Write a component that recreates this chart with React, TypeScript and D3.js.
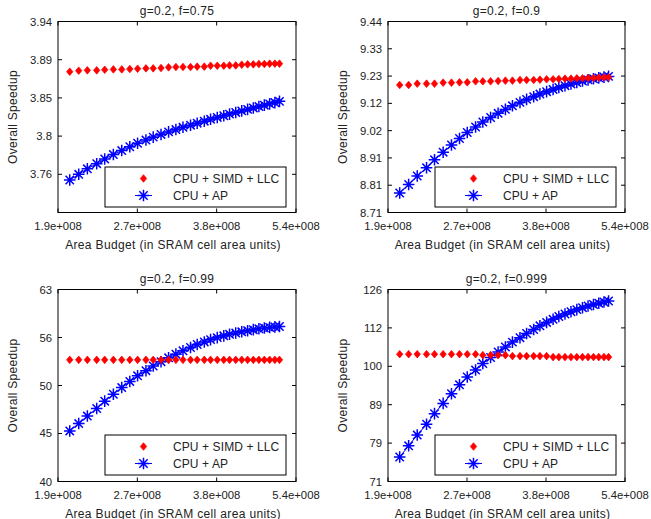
import React from 'react';
import * as d3 from 'd3';

// ---------- data ----------
const areaBudget = [
  2.0e8, 2.08e8, 2.16e8, 2.25e8, 2.33e8, 2.42e8, 2.51e8, 2.6e8, 2.69e8, 2.79e8, 2.88e8,
  2.98e8, 3.08e8, 3.18e8, 3.28e8, 3.39e8, 3.49e8, 3.6e8, 3.7e8, 3.81e8, 3.92e8, 4.02e8,
  4.13e8, 4.24e8, 4.35e8, 4.46e8, 4.57e8, 4.68e8, 4.79e8, 4.9e8, 5.0e8,
];

const xTickValues = [1.9e8, 2.687e8, 3.8e8, 5.374e8];
const xTickLabels = ['1.9e+008', '2.7e+008', '3.8e+008', '5.4e+008'];

const seriesNames = ['CPU + SIMD + LLC', 'CPU + AP'];
const panelTitles = ['g=0.2, f=0.75', 'g=0.2, f=0.9', 'g=0.2, f=0.99', 'g=0.2, f=0.999'];

// f = 0.75
const simd075 = [
  3.8764, 3.8776, 3.878, 3.878, 3.8787, 3.8791, 3.8791, 3.8795, 3.8799, 3.8803, 3.8803,
  3.8807, 3.8815, 3.8819, 3.8819, 3.8819, 3.8823, 3.8823, 3.8834, 3.8834, 3.8834, 3.8838,
  3.8838, 3.8846, 3.885, 3.885, 3.8854, 3.8854, 3.8858, 3.8858, 3.8858,
];
const ap075 = [
  3.7519, 3.7584, 3.7646, 3.7704, 3.7758, 3.7808, 3.7854, 3.7897, 3.7937, 3.7974, 3.8007,
  3.8038, 3.8067, 3.8094, 3.812, 3.8144, 3.8167, 3.819, 3.8212, 3.8233, 3.8253, 3.8272,
  3.8291, 3.8309, 3.8326, 3.8343, 3.8359, 3.8375, 3.839, 3.8405, 3.8419,
];
const yDomain075 = [3.71535, 3.9355];
const yTicks075 = [3.75837, 3.80189, 3.84592, 3.89045, 3.9355];
const yTickLabels075 = ['3.76', '3.8', '3.85', '3.89', '3.94'];

// f = 0.9
const simd09 = [
  9.1911, 9.1911, 9.1962, 9.1962, 9.1962, 9.2001, 9.2001, 9.2014, 9.2014, 9.2053, 9.2053,
  9.2053, 9.2066, 9.2079, 9.2079, 9.2105, 9.2105, 9.2105, 9.2118, 9.2131, 9.2131, 9.2144,
  9.2157, 9.2157, 9.217, 9.217, 9.2183, 9.2183, 9.2196, 9.2209, 9.2209,
];
const ap09 = [
  8.7816, 8.8131, 8.8448, 8.8754, 8.9055, 8.9341, 8.9613, 8.9859, 9.0087, 9.0296, 9.0487,
  9.0659, 9.082, 9.0969, 9.1108, 9.1238, 9.1354, 9.1458, 9.1559, 9.1652, 9.1737, 9.1814,
  9.1884, 9.195, 9.2008, 9.2063, 9.2109, 9.2152, 9.2187, 9.2218, 9.2245,
];
const yDomain09 = [8.70964, 9.44061];
const yTicks09 = [8.70964, 8.81049, 8.91251, 9.01571, 9.12011, 9.22571, 9.33254, 9.44061];
const yTickLabels09 = ['8.71', '8.81', '8.91', '9.02', '9.12', '9.23', '9.33', '9.44'];

// f = 0.99
const simd099 = [
  53.3, 53.3, 53.3, 53.3, 53.3, 53.3, 53.3, 53.3, 53.3, 53.3, 53.3, 53.3, 53.3, 53.3, 53.3,
  53.3, 53.3, 53.3, 53.3, 53.3, 53.3, 53.3, 53.3, 53.3, 53.3, 53.3, 53.3, 53.3, 53.3, 53.3, 53.3,
];
const ap099 = [
  44.94, 45.75, 46.58, 47.43, 48.27, 49.08, 49.87, 50.61, 51.3, 51.93, 52.52, 53.06, 53.56,
  54.03, 54.47, 54.9, 55.3, 55.64, 55.95, 56.22, 56.46, 56.67, 56.84, 57.01, 57.16, 57.3,
  57.42, 57.53, 57.61, 57.68, 57.74,
];
const yDomain099 = [39.8107, 63.0957];
const yTicks099 = [39.8107, 44.6684, 50.1187, 56.2341, 63.0957];
const yTickLabels099 = ['40', '45', '50', '56', '63'];

// f = 0.999
const simd0999 = [
  103.7, 103.7, 103.7, 103.7, 103.7, 103.7, 103.7, 103.7, 103.7, 103.7, 103.4, 103.4, 103.4,
  103.4, 103.1, 103.1, 103.1, 103.1, 103.1, 103.1, 102.8, 102.8, 102.8, 102.8, 102.8, 102.8,
  102.8, 102.8, 102.8, 102.8, 102.8,
];
const ap0999 = [
  76.19, 78.79, 81.38, 84.06, 86.77, 89.47, 92.11, 94.6, 96.84, 98.89, 100.84, 102.67, 104.38,
  105.98, 107.52, 108.95, 110.33, 111.66, 112.91, 114.06, 115.13, 116.1, 116.97, 117.78,
  118.53, 119.2, 119.81, 120.35, 120.82, 121.26, 121.62,
];
const yDomain0999 = [70.7946, 125.893];
const yTicks0999 = [70.7946, 79.4328, 89.1251, 100, 112.202, 125.893];
const yTickLabels0999 = ['71', '79', '89', '100', '112', '126'];

// ---------- layout ----------
const W = 651;
const H = 519;
const FONT = "'Liberation Sans', Arial, Helvetica, sans-serif";
const TEXT = '#222';
const RED = '#ff0000';
const BLUE = '#0000ff';

type PanelProps = {
  x0: number; x1: number; y0: number; y1: number;
  title: string;
  yDomain: number[]; yTicks: number[]; yTickLabels: string[];
  red: number[]; blue: number[];
};

function asteriskPath(x: number, y: number, r: number) {
  const d = r * 0.72;
  return `M${x - r},${y}H${x + r}M${x},${y - r}V${y + r}M${x - d},${y - d}L${x + d},${y + d}M${x - d},${y + d}L${x + d},${y - d}`;
}
function diamondPath(x: number, y: number) {
  return `M${x},${y - 3.8}L${x + 3.2},${y}L${x},${y + 3.8}L${x - 3.2},${y}Z`;
}

function Panel(p: PanelProps) {
  const x = d3.scaleLog().domain([xTickValues[0], xTickValues[xTickValues.length - 1]]).range([p.x0, p.x1]);
  const y = d3.scaleLog().domain(p.yDomain).range([p.y1, p.y0]);
  const line = d3.line<number>().x((_, i) => x(areaBudget[i])).y((v) => y(v));
  const tick = 4;
  const cx = (p.x0 + p.x1) / 2;
  const cy = (p.y0 + p.y1) / 2;
  const lgX = p.x0 + 47;
  const lgY = p.y0 + 145.5;
  const lgW = 181;
  const lgH = 40;
  return (
    <g>
      <path d={line(p.blue) || ''} fill="none" stroke={BLUE} strokeWidth={1} />
      {p.blue.map((v, i) => (
        <path key={'b' + i} d={asteriskPath(x(areaBudget[i]), y(v), 5.8)} stroke={BLUE} strokeWidth={1.5} fill="none" />
      ))}
      {p.red.map((v, i) => (
        <path key={'r' + i} d={diamondPath(x(areaBudget[i]), y(v))} fill={RED} stroke={RED} strokeWidth={0.7} />
      ))}
      <rect x={p.x0} y={p.y0} width={p.x1 - p.x0} height={p.y1 - p.y0} fill="none" stroke="#000" strokeWidth={1} />
      {xTickValues.map((t, i) => (
        <g key={'xt' + i}>
          <line x1={x(t)} x2={x(t)} y1={p.y1} y2={p.y1 - tick} stroke="#000" />
          <line x1={x(t)} x2={x(t)} y1={p.y0} y2={p.y0 + tick} stroke="#000" />
          <text x={x(t)} y={p.y1 + 17} textAnchor="middle" fontSize={11.3} fill={TEXT} fontFamily={FONT}>
            {xTickLabels[i]}
          </text>
        </g>
      ))}
      {p.yTicks.map((t, i) => (
        <g key={'yt' + i}>
          <line x1={p.x0} x2={p.x0 + tick} y1={y(t)} y2={y(t)} stroke="#000" />
          <line x1={p.x1} x2={p.x1 - tick} y1={y(t)} y2={y(t)} stroke="#000" />
          <text x={p.x0 - 6} y={y(t) + 4} textAnchor="end" fontSize={11.3} fill={TEXT} fontFamily={FONT}>
            {p.yTickLabels[i]}
          </text>
        </g>
      ))}
      <text x={cx} y={p.y0 - 7} textAnchor="middle" fontSize={12} letterSpacing={0.3} fill={TEXT} fontFamily={FONT}>
        {p.title}
      </text>
      <text x={cx - 4} y={p.y1 + 36} textAnchor="middle" fontSize={12} letterSpacing={0.35} fill={TEXT} fontFamily={FONT}>
        Area Budget (in SRAM cell area units)
      </text>
      <text
        transform={`translate(${p.x0 - 41},${cy}) rotate(-90)`}
        textAnchor="middle" fontSize={12} letterSpacing={0.3} fill={TEXT} fontFamily={FONT}
      >
        Overall Speedup
      </text>
      <rect x={lgX} y={lgY} width={lgW} height={lgH} fill="#fff" stroke="#000" strokeWidth={1} />
      <path d={diamondPath(lgX + 38.5, lgY + 11.5)} fill={RED} stroke={RED} strokeWidth={0.7} />
      <text x={lgX + 68} y={lgY + 16} fontSize={12} letterSpacing={0.1} fill={TEXT} fontFamily={FONT}>
        {seriesNames[0]}
      </text>
      <line x1={lgX + 30} x2={lgX + 47} y1={lgY + 28.5} y2={lgY + 28.5} stroke={BLUE} strokeWidth={1} />
      <path d={asteriskPath(lgX + 38.5, lgY + 28.5, 5.8)} stroke={BLUE} strokeWidth={1.5} fill="none" />
      <text x={lgX + 68} y={lgY + 33} fontSize={12} letterSpacing={0.1} fill={TEXT} fontFamily={FONT}>
        {seriesNames[1]}
      </text>
    </g>
  );
}

export default function App() {
  const L = [58, 296];
  const R = [388, 625];
  const T = [21.5, 212.5];
  const B = [289.5, 481.5];
  return (
    <svg width={W} height={H} style={{ position: 'absolute', left: 0, top: 0, background: '#fff' }}>
      <rect x={0} y={0} width={W} height={H} fill="#fff" />
      <Panel x0={L[0]} x1={L[1]} y0={T[0]} y1={T[1]} title={panelTitles[0]}
        yDomain={yDomain075} yTicks={yTicks075} yTickLabels={yTickLabels075} red={simd075} blue={ap075} />
      <Panel x0={R[0]} x1={R[1]} y0={T[0]} y1={T[1]} title={panelTitles[1]}
        yDomain={yDomain09} yTicks={yTicks09} yTickLabels={yTickLabels09} red={simd09} blue={ap09} />
      <Panel x0={L[0]} x1={L[1]} y0={B[0]} y1={B[1]} title={panelTitles[2]}
        yDomain={yDomain099} yTicks={yTicks099} yTickLabels={yTickLabels099} red={simd099} blue={ap099} />
      <Panel x0={R[0]} x1={R[1]} y0={B[0]} y1={B[1]} title={panelTitles[3]}
        yDomain={yDomain0999} yTicks={yTicks0999} yTickLabels={yTickLabels0999} red={simd0999} blue={ap0999} />
    </svg>
  );
}
